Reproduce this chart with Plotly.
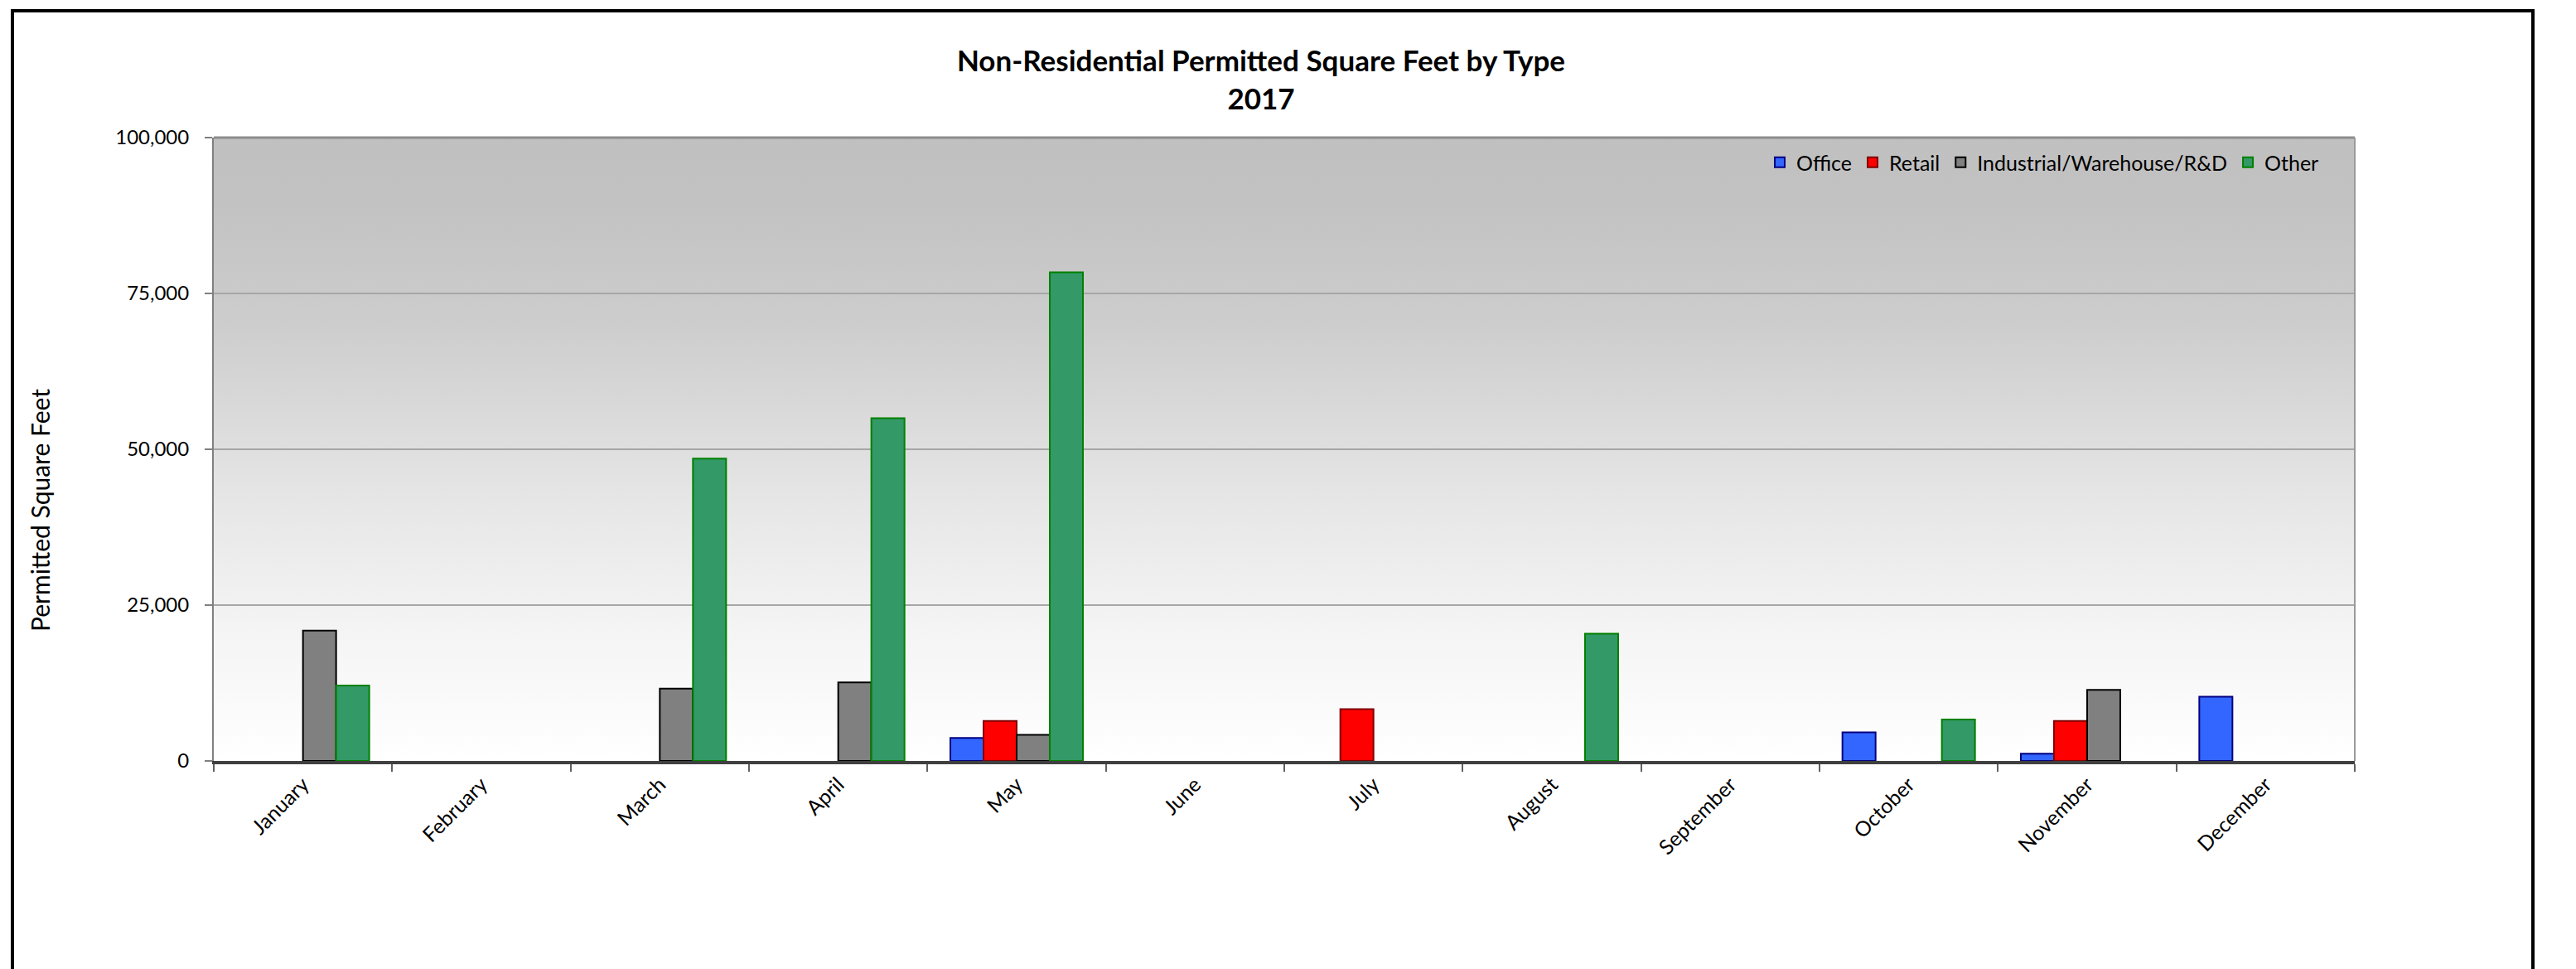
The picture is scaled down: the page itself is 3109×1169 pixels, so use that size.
import base64
import plotly.graph_objects as go

# ---------------- data ----------------
months = ["January", "February", "March", "April", "May", "June",
          "July", "August", "September", "October", "November", "December"]
office = [0, 0, 0, 0, 3700, 0, 0, 0, 0, 4600, 1150, 10300]
retail = [0, 0, 0, 0, 6400, 0, 8300, 0, 0, 0, 6400, 0]
industrial = [20900, 0, 11600, 12600, 4200, 0, 0, 0, 0, 0, 11400, 0]
other = [12100, 0, 48500, 55000, 78400, 0, 0, 20400, 0, 6650, 0, 0]

series_names = ["Office", "Retail", "Industrial/Warehouse/R&D", "Other"]
y_ticks = [0, 25000, 50000, 75000, 100000]

title_lines = ["Non-Residential Permitted Square Feet by Type", "2017"]
y_title = "Permitted Square Feet"

# ---------------- styling ----------------
W, H = 3109, 1169
L, R, T, B = 258, 2842, 166, 918          # plot area in px
FONT = "Lato, Carlito, 'Open Sans', sans-serif"

fills = ["#3366FF", "#FF0000", "#808080", "#339966"]
lines = ["#000080", "#800000", "#000000", "#008000"]


def px_to_paper_x(px):
    return (px - L) / (R - L)


def px_to_paper_y(py):
    return (B - py) / (B - T)


fig = go.Figure()
for name, vals, fc, lc in zip(series_names, [office, retail, industrial, other], fills, lines):
    fig.add_trace(go.Bar(
        x=months,
        y=[v if v else None for v in vals],
        name=name,
        marker=dict(color=fc, line=dict(color=lc, width=2)),
    ))

# gradient background for the plot area (decoration)
svg = ('<svg xmlns="http://www.w3.org/2000/svg" width="10" height="100" preserveAspectRatio="none">'
       '<defs><linearGradient id="g" x1="0" y1="0" x2="0" y2="1">'
       '<stop offset="0" stop-color="#c0c0c0"/>'
       '<stop offset="0.1" stop-color="#c2c2c2"/>'
       '<stop offset="0.3" stop-color="#cdcdcd"/>'
       '<stop offset="0.58" stop-color="#e6e6e6"/>'
       '<stop offset="0.8" stop-color="#f5f5f5"/>'
       '<stop offset="1" stop-color="#ffffff"/>'
       '</linearGradient></defs>'
       '<rect width="10" height="100" fill="url(#g)"/></svg>')
svg_uri = "data:image/svg+xml;base64," + base64.b64encode(svg.encode()).decode()

fig.update_layout(
    width=W, height=H,
    margin=dict(l=L, r=W - R, t=T, b=H - B, pad=0),
    paper_bgcolor="white",
    plot_bgcolor="rgba(0,0,0,0)",
    font=dict(family=FONT, size=22, color="black"),
    barmode="group",
    bargap=0.257,
    bargroupgap=0,
    showlegend=True,
    title=dict(
        text="<br>".join("<b>" + t + "</b>" for t in title_lines),
        x=1522 / W, xref="container", xanchor="center",
        y=1 - 86 / H, yref="container", yanchor="top",
        font=dict(family=FONT, size=35, color="black"),
    ),
    legend=dict(
        orientation="h",
        x=px_to_paper_x(2804), xanchor="right",
        y=px_to_paper_y(173), yanchor="top",
        bgcolor="rgba(0,0,0,0)",
        font=dict(family=FONT, size=25, color="black"),
        itemwidth=30,
        traceorder="normal",
    ),
    images=[dict(
        source=svg_uri, xref="paper", yref="paper",
        x=0, y=1, sizex=1, sizey=1, xanchor="left", yanchor="top",
        sizing="stretch", layer="below",
    )],
    annotations=[dict(
        text=y_title, textangle=-90, showarrow=False,
        xref="paper", yref="paper",
        x=px_to_paper_x(48), y=px_to_paper_y(616),
        xanchor="center", yanchor="middle",
        font=dict(family=FONT, size=30, color="black"),
    )],
    shapes=[
        # outer chart frame
        dict(type="rect", xref="paper", yref="paper",
             x0=px_to_paper_x(15), x1=px_to_paper_x(3057),
             y0=px_to_paper_y(1190), y1=px_to_paper_y(13),
             line=dict(color="black", width=4), fillcolor="rgba(0,0,0,0)", layer="above"),
        # plot area border (top & right)
        dict(type="line", xref="paper", yref="paper", x0=0, x1=1, y0=1, y1=1,
             line=dict(color="#8c8c8c", width=3)),
        dict(type="line", xref="paper", yref="paper", x0=1, x1=1, y0=0, y1=1,
             line=dict(color="#9a9a9a", width=2)),
    ],
)

fig.update_xaxes(
    type="category",
    tickangle=-45,
    tickson="boundaries",
    ticks="outside", ticklen=9, tickwidth=1.5, tickcolor="#606060",
    showgrid=False,
    showline=True, linecolor="#404040", linewidth=4,
    tickfont=dict(family=FONT, size=25, color="black"),
    range=[-0.5, 11.5],
)

fig.update_yaxes(
    range=[0, 100000],
    tickvals=y_ticks,
    tickformat=",",
    ticks="outside", ticklen=9, tickwidth=1.5, tickcolor="#808080",
    ticklabelstandoff=14,
    showgrid=True, gridcolor="#a6a6a6", gridwidth=2,
    zeroline=False,
    showline=True, linecolor="#808080", linewidth=2,
    tickfont=dict(family=FONT, size=24, color="black"),
    automargin=False,
)

fig.write_html(
    "out.html",
    config={"displayModeBar": False},
    post_script="document.body.style.margin='0';document.body.style.overflow='hidden';",
)
